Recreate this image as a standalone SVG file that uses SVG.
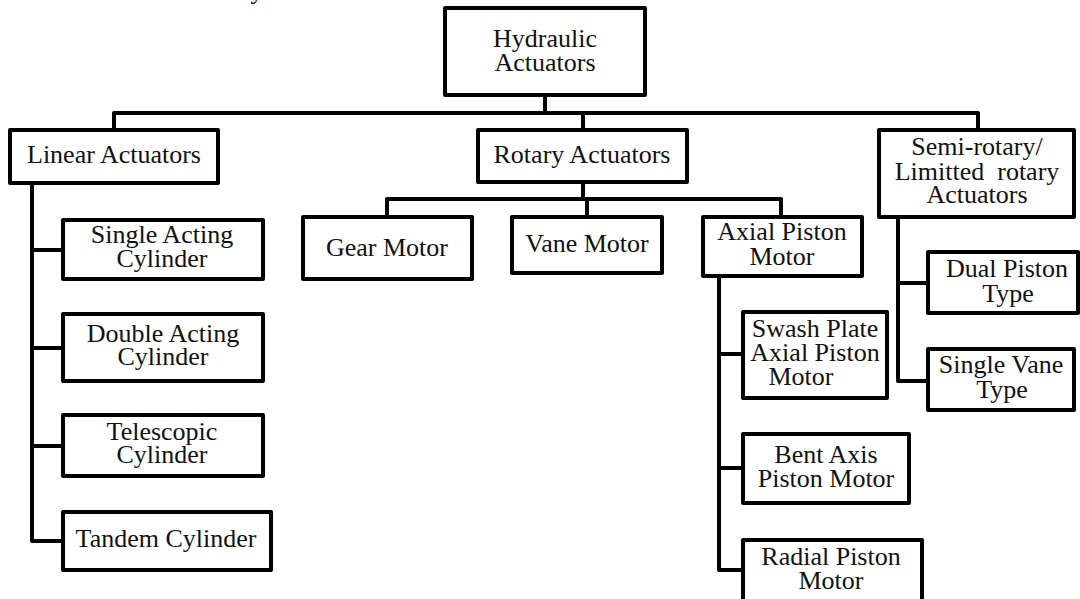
<svg xmlns="http://www.w3.org/2000/svg" width="1080" height="599" viewBox="0 0 1080 599">
<style>
.box{fill:#fff;stroke:#000;stroke-width:4;stroke-linejoin:round}
.t{font-family:"Liberation Serif","Times New Roman",serif;font-size:26px;fill:#111;text-anchor:middle}
.c{fill:none;stroke:#000;stroke-width:4;stroke-linejoin:round;stroke-linecap:square}
</style>
<rect width="1080" height="599" fill="#fff"/>
<text class="t" x="257" y="-1">y</text>
<g id="connectors">
<path class="c" d="M545 95V113M114 130V113H978V130M583 113V130"/>
<path class="c" d="M583 182V199M387 217V199H781V217M587 199V217"/>
<path class="c" d="M32 183V541H63M32 250H63M32 348H63M32 446H63"/>
<path class="c" d="M719 276V570H743M719 354H743M719 468H743"/>
<path class="c" d="M898 217V381H928M898 283H928"/>
</g>
<g id="hydraulic"><rect class="box" x="445" y="8" width="200" height="87"/><text class="t" x="545" y="47">Hydraulic</text><text class="t" x="545" y="71">Actuators</text></g>
<g id="linear"><rect class="box" x="10" y="130" width="208" height="53"/><text class="t" x="114" y="163">Linear Actuators</text></g>
<g id="rotary"><rect class="box" x="478" y="130" width="209" height="52"/><text class="t" x="582" y="163">Rotary Actuators</text></g>
<g id="semirotary"><rect class="box" x="879" y="130" width="195" height="87"/><text class="t" x="977" y="155">Semi-rotary/</text><text class="t" x="977" y="180" xml:space="preserve">Limitted  rotary</text><text class="t" x="977" y="203">Actuators</text></g>
<g id="single-acting"><rect class="box" x="63" y="220" width="200" height="59"/><text class="t" x="162" y="243">Single Acting</text><text class="t" x="162" y="267">Cylinder</text></g>
<g id="double-acting"><rect class="box" x="63" y="314" width="200" height="67"/><text class="t" x="163" y="342">Double Acting</text><text class="t" x="163" y="365">Cylinder</text></g>
<g id="telescopic"><rect class="box" x="63" y="415" width="200" height="61"/><text class="t" x="162" y="440">Telescopic</text><text class="t" x="162" y="463">Cylinder</text></g>
<g id="tandem"><rect class="box" x="63" y="512" width="208" height="58"/><text class="t" x="166" y="547">Tandem Cylinder</text></g>
<g id="gear"><rect class="box" x="303" y="217" width="169" height="62"/><text class="t" x="387" y="256">Gear Motor</text></g>
<g id="vane"><rect class="box" x="512" y="217" width="150" height="56"/><text class="t" x="587" y="252">Vane Motor</text></g>
<g id="axial"><rect class="box" x="703" y="217" width="159" height="59"/><text class="t" x="782" y="240">Axial Piston</text><text class="t" x="782" y="265">Motor</text></g>
<g id="swash"><rect class="box" x="743" y="312" width="144" height="86"/><text class="t" x="815" y="337">Swash Plate</text><text class="t" x="815" y="361">Axial Piston</text><text class="t" x="801" y="385">Motor</text></g>
<g id="bent"><rect class="box" x="743" y="434" width="166" height="69"/><text class="t" x="826" y="463">Bent Axis</text><text class="t" x="826" y="487">Piston Motor</text></g>
<g id="radial"><rect class="box" x="743" y="540" width="179" height="70"/><text class="t" x="831" y="565">Radial Piston</text><text class="t" x="831" y="589">Motor</text></g>
<g id="dual"><rect class="box" x="928" y="252" width="150" height="61"/><text class="t" x="1007" y="277">Dual Piston</text><text class="t" x="1008" y="302">Type</text></g>
<g id="single-vane"><rect class="box" x="928" y="349" width="146" height="61"/><text class="t" x="1001" y="373">Single Vane</text><text class="t" x="1002" y="398">Type</text></g>
</svg>
